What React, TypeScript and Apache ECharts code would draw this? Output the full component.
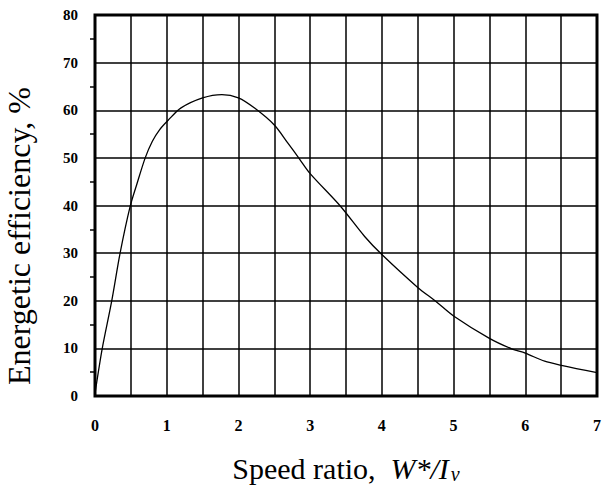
import React, { useEffect, useRef } from "react";
import * as echarts from "echarts";

const speedRatio = [0, 0.1, 0.23, 0.35, 0.49, 0.58, 0.7, 0.8, 0.9, 1.02, 1.2, 1.5, 1.77, 2.0, 2.23, 2.5, 2.69, 2.85, 3.0, 3.42, 3.76, 4.0, 4.5, 4.75, 5.0, 5.5, 5.81, 6.0, 6.27, 6.52, 7.0];
const efficiency = [0.5, 9.9, 19.7, 30, 39.8, 44.3, 50, 53.5, 55.9, 57.9, 60.5, 62.6, 63.3, 62.6, 60.4, 56.9, 53.1, 49.8, 46.7, 39.9, 33.5, 29.7, 22.8, 19.9, 16.8, 12.1, 9.9, 9.0, 7.3, 6.4, 4.9];
const xTicks = ["0", "1", "2", "3", "4", "5", "6", "7"];
const yTicks = ["0", "10", "20", "30", "40", "50", "60", "70", "80"];
const xTitle = "Speed ratio,";
const xTitleVar = "W*/I";
const xTitleSub = "v";
const yTitle = "Energetic efficiency, %";

const SERIF = "'Liberation Serif', 'DejaVu Serif', serif";

export default function App() {
  const ref = useRef<HTMLDivElement>(null);
  useEffect(() => {
    if (!ref.current) return;
    const chart = echarts.init(ref.current, undefined, { renderer: "svg" });
    chart.setOption({
      animation: false,
      backgroundColor: "#ffffff",
      grid: {
        left: 95,
        right: 5,
        top: 15,
        bottom: 88,
        show: true,
        borderColor: "#000",
        borderWidth: 3,
        backgroundColor: "transparent",
      },
      xAxis: {
        type: "value",
        min: 0,
        max: 7,
        interval: 0.5,
        axisLine: { show: false },
        axisTick: { show: false },
        splitLine: { show: true, lineStyle: { color: "#000", width: 1.5 } },
        axisLabel: {
          margin: 21,
          color: "#000",
          fontFamily: SERIF,
          fontSize: 16,
          fontWeight: "bold",
          formatter: (v: number) => (Number.isInteger(v) ? xTicks[v] ?? "" : ""),
        },
        name: `{a|${xTitle}  }{b|${xTitleVar}}{c|${xTitleSub}}`,
        nameLocation: "middle",
        nameGap: 56,
        nameTextStyle: {
          rich: {
            a: { fontFamily: SERIF, fontSize: 30, color: "#000" },
            b: { fontFamily: SERIF, fontSize: 30, fontStyle: "italic", color: "#000" },
            c: { fontFamily: SERIF, fontSize: 20, fontStyle: "italic", color: "#000", padding: [12, 0, 0, 2] },
          },
        },
      },
      yAxis: {
        type: "value",
        min: 0,
        max: 80,
        interval: 10,
        axisLine: { show: false },
        axisTick: { show: false },
        minorTick: { show: true, splitNumber: 2, length: 5, lineStyle: { color: "#000", width: 1.5 } },
        splitLine: { show: true, lineStyle: { color: "#000", width: 1.5 } },
        axisLabel: {
          margin: 17,
          color: "#000",
          fontFamily: SERIF,
          fontSize: 15,
          fontWeight: "bold",
          formatter: (v: number) => yTicks[Math.round(v / 10)] ?? "",
        },
      },
      graphic: [
        {
          type: "text",
          x: 19,
          y: 236,
          rotation: Math.PI / 2,
          style: {
            text: yTitle,
            fontFamily: SERIF,
            fontSize: 32,
            fill: "#000",
            align: "center",
            verticalAlign: "middle",
          },
        },
      ],
      series: [
        {
          type: "line",
          data: speedRatio.map((x, i) => [x, efficiency[i]]),
          smooth: 0.3,
          symbol: "none",
          lineStyle: { color: "#000", width: 1.3 },
        },
      ],
    });
    return () => chart.dispose();
  }, []);
  return <div ref={ref} style={{ width: 604, height: 489, position: "absolute", left: 0, top: 0 }} />;
}
